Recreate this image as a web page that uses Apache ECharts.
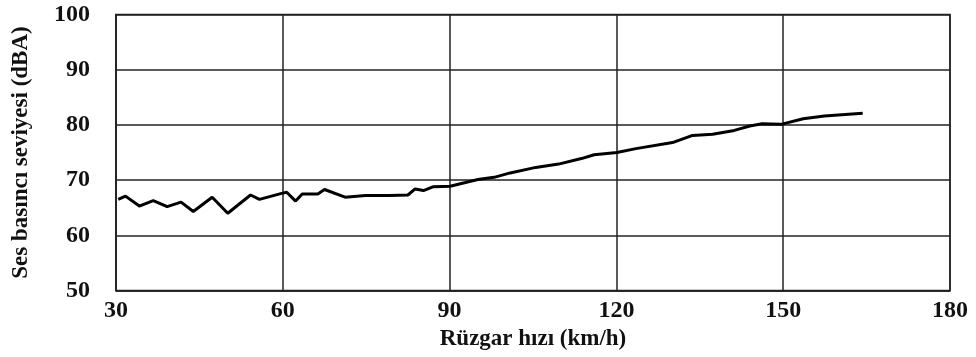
<!DOCTYPE html>
<html>
<head>
<meta charset="utf-8">
<script src="https://cdn.jsdelivr.net/npm/echarts@6/dist/echarts.min.js"></script>
<style>html,body{margin:0;padding:0;background:#fff}#c{width:976px;height:357px}</style>
</head>
<body>
<div id="c"></div>
<script>
var speeds = [30.4,31.7,34.2,36.7,39.2,41.7,43.9,47.3,50.1,54.2,55.8,59.8,60.7,62.3,63.5,66.3,67.5,71.2,74.9,79.2,82.5,83.8,85.3,87.1,90.1,91.0,95.1,98.0,100.9,105.5,109.6,113.7,116.0,120.1,123.5,130.1,133.7,137.3,141.2,144.0,146.2,149.6,153.6,157.4,164.3];
var levels = [66.5,67.1,65.3,66.3,65.2,66.0,64.3,66.9,64.0,67.3,66.5,67.6,67.8,66.2,67.5,67.5,68.3,66.9,67.2,67.2,67.3,68.4,68.1,68.8,68.9,69.1,70.1,70.5,71.3,72.3,72.9,73.9,74.6,75.0,75.7,76.8,78.1,78.3,79.0,79.8,80.2,80.1,81.1,81.6,82.1];
var xTicks = [30,60,90,120,150,180];
var yTicks = [50,60,70,80,90,100];
var xTitle = 'Rüzgar hızı (km/h)';
var yTitle = 'Ses basıncı seviyesi (dBA)';

var chart = echarts.init(document.getElementById('c'), null, {renderer:'canvas'});
var font = '"Liberation Serif","Times New Roman",serif';
var gridLine = {show:true, lineStyle:{color:'#222', width:1.5}};
chart.setOption({
  animation:false,
  backgroundColor:'#fff',
  grid:{left:116, right:26, top:14.5, bottom:66.5, show:true, borderColor:'#222', borderWidth:1.5},
  xAxis:{type:'value', min:xTicks[0], max:xTicks[xTicks.length-1], interval:30,
    name:xTitle, nameLocation:'middle', nameGap:36,
    nameTextStyle:{fontFamily:font, fontSize:23, fontWeight:'bold', color:'#111'},
    axisLine:{show:true, lineStyle:{color:'#222', width:1.5}},
    axisTick:{show:false},
    axisLabel:{fontFamily:font, fontSize:24, fontWeight:'bold', color:'#111', margin:8},
    splitLine:gridLine},
  yAxis:{type:'value', min:yTicks[0], max:yTicks[yTicks.length-1], interval:10,
    name:yTitle, nameLocation:'middle', nameGap:83, nameRotate:90,
    nameTextStyle:{fontFamily:font, fontSize:23, fontWeight:'bold', color:'#111'},
    axisLine:{show:true, lineStyle:{color:'#222', width:1.5}},
    axisTick:{show:false},
    axisLabel:{fontFamily:font, fontSize:24, fontWeight:'bold', color:'#111', margin:26},
    splitLine:gridLine},
  series:[{type:'line', data:speeds.map(function(s,i){return [s, levels[i]];}),
    showSymbol:false, lineStyle:{color:'#000', width:3}}]
});
</script>
</body>
</html>
